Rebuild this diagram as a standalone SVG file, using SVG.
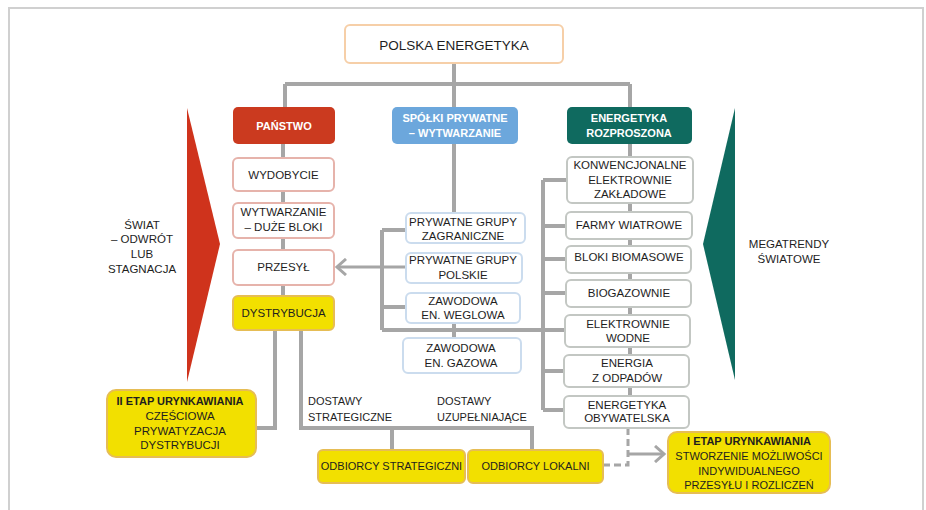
<svg xmlns="http://www.w3.org/2000/svg" width="926" height="510" viewBox="0 0 926 510">
<defs>
<style>
text{font-family:"Liberation Sans",Arial,sans-serif;fill:#1e1e1e;text-anchor:middle;font-size:11.5px}
.hd{font-weight:bold;fill:#fff;font-size:11px}
.bd{font-weight:bold;font-size:11px}
.sm{font-size:11px}
.lt{text-anchor:start;font-size:11px}
.w{fill:#fff;rx:5}
.red{stroke:#e6b3ab;stroke-width:2}
.blu{stroke:#cbdcee;stroke-width:2}
.gry{stroke:#c3c7c3;stroke-width:2}
.yel{fill:#f2e000;stroke:#e6bd55;stroke-width:2}
.c{fill:none;stroke:#a6a6a6;stroke-width:4}
.d{fill:none;stroke:#a6a6a6;stroke-width:3;stroke-dasharray:7 4}
</style>
<marker id="ah" markerUnits="userSpaceOnUse" markerWidth="14" markerHeight="18" refX="11" refY="9" orient="auto">
<path d="M2,1 L11,9 L2,17" fill="none" stroke="#a6a6a6" stroke-width="3"/>
</marker>
</defs>
<rect x="9" y="8" width="914" height="520" fill="#fff" stroke="#d0d0d0" stroke-width="2"/>
<polygon id="tri-left" points="187,108 220,244 187,382" fill="#cf331c"/>
<polygon id="tri-right" points="735,108 703,244 735,380" fill="#0f6a5f"/>
<g id="connectors">
<path class="c" d="M454,63 V84 M285,84 H630 M285,84 V107 M454,84 V107 M630,84 V107"/>
<path class="c" d="M283,144 V296"/>
<path class="c" d="M454,144 V213"/>
<path class="c" d="M630,144 V396"/>
<path class="c" d="M382,230 V330 M382,230 H406 M382,307 H406 M382,330 H565 M454,323 V338"/>
<path class="c" style="stroke-width:3" d="M406,267 H337" marker-end="url(#ah)"/>
<path class="c" d="M543,180 V410 M543,180 H567 M543,226 H567 M543,259 H567 M543,293 H567 M543,371 H565 M543,410 H565"/>
<path class="c" d="M275,330 V428 H256"/>
<path class="c" d="M301,330 V428 H532 V450 M392,428 V450"/>
<path class="d" d="M628,428 V465 H604"/>
<path class="c" style="stroke-width:3" d="M628,454 H664" marker-end="url(#ah)"/>
</g>
<g id="root"><rect x="345" y="25" width="218" height="38" rx="5" fill="#fff" stroke="#f6cfa8" stroke-width="2"/><text x="454" y="50" style="font-size:13.5px">POLSKA ENERGETYKA</text></g>
<g id="panstwo"><rect x="233" y="107" width="102" height="37" rx="5" fill="#cb3a1f"/><text class="hd" x="284" y="130">PAŃSTWO</text></g>
<g id="spolki"><rect x="392" y="107" width="126" height="37" rx="5" fill="#6ca7dc"/><text class="hd" x="455" y="122">SPÓŁKI PRYWATNE</text><text class="hd" x="455" y="137">– WYTWARZANIE</text></g>
<g id="rozproszona"><rect x="567" y="107" width="125" height="37" rx="5" fill="#0f6a5f"/><text class="hd" x="629" y="122">ENERGETYKA</text><text class="hd" x="629" y="137">ROZPROSZONA</text></g>
<g id="wydobycie"><rect class="w red" x="233" y="158" width="101" height="33"/><text x="283.5" y="179">WYDOBYCIE</text></g>
<g id="wytwarzanie"><rect class="w red" x="233" y="203" width="101" height="35"/><text x="283.5" y="216">WYTWARZANIE</text><text x="283.5" y="231">– DUŻE BLOKI</text></g>
<g id="przesyl"><rect class="w red" x="233" y="250" width="101" height="35"/><text x="283.5" y="271">PRZESYŁ</text></g>
<g id="dystrybucja"><rect class="yel" x="233" y="296" width="101" height="34" rx="5"/><text x="283.5" y="317">DYSTRYBUCJA</text></g>
<g id="zagraniczne"><rect class="w blu" x="406" y="213" width="119" height="30"/><text x="463" y="226">PRYWATNE GRUPY</text><text x="463" y="240">ZAGRANICZNE</text></g>
<g id="polskie"><rect class="w blu" x="406" y="253" width="116" height="30"/><text x="463" y="264">PRYWATNE GRUPY</text><text x="463" y="279">POLSKIE</text></g>
<g id="weglowa"><rect class="w blu" x="406" y="293" width="114" height="30"/><text x="463" y="305">ZAWODOWA</text><text x="463" y="319">EN. WEGLOWA</text></g>
<g id="gazowa"><rect class="w blu" x="403" y="338" width="118" height="35"/><text x="461" y="352">ZAWODOWA</text><text x="461" y="367">EN. GAZOWA</text></g>
<g id="konwencjonalne"><rect class="w gry" x="567" y="157" width="126" height="46"/><text x="630" y="169">KONWENCJONALNE</text><text x="630" y="184">ELEKTROWNIE</text><text x="630" y="198">ZAKŁADOWE</text></g>
<g id="farmy"><rect class="w gry" x="566" y="212" width="126" height="27"/><text x="629" y="229">FARMY WIATROWE</text></g>
<g id="biomasowe"><rect class="w gry" x="566" y="246" width="125" height="27"/><text x="629" y="261">BLOKI BIOMASOWE</text></g>
<g id="biogazownie"><rect class="w gry" x="566" y="280" width="125" height="27"/><text x="629" y="297">BIOGAZOWNIE</text></g>
<g id="wodne"><rect class="w gry" x="565" y="315" width="125" height="32"/><text x="628" y="328">ELEKTROWNIE</text><text x="628" y="342">WODNE</text></g>
<g id="odpady"><rect class="w gry" x="564" y="355" width="125" height="32"/><text x="627" y="367">ENERGIA</text><text x="627" y="382">Z ODPADÓW</text></g>
<g id="obywatelska"><rect class="w gry" x="564" y="396" width="125" height="32"/><text x="627" y="409">ENERGETYKA</text><text x="627" y="422">OBYWATELSKA</text></g>
<g id="etap2"><rect class="yel" x="107" y="390" width="149" height="67" rx="9"/><text class="bd" x="180" y="405">II ETAP URYNKAWIANIA</text><text x="180" y="420">CZĘŚCIOWA</text><text x="180" y="435">PRYWATYZACJA</text><text x="180" y="449">DYSTRYBUCJI</text></g>
<g id="strategiczni"><rect class="yel" x="318" y="450" width="147" height="33" rx="5"/><text class="sm" x="391.5" y="470">ODBIORCY STRATEGICZNI</text></g>
<g id="lokalni"><rect class="yel" x="468" y="450" width="135" height="33" rx="5"/><text class="sm" x="535.5" y="470">ODBIORCY LOKALNI</text></g>
<g id="etap1"><rect class="yel" x="668" y="432" width="162" height="61" rx="9"/><text class="bd" x="749" y="445">I ETAP URYNKAWIANIA</text><text class="sm" x="749" y="460">STWORZENIE MOŻLIWOŚCI</text><text class="sm" x="749" y="475">INDYWIDUALNEGO</text><text class="sm" x="749" y="489">PRZESYŁU I ROZLICZEŃ</text></g>
<g id="labels">
<text x="142" y="229">ŚWIAT</text><text x="142" y="243">– ODWRÓT</text><text x="142" y="258">LUB</text><text x="142" y="273">STAGNACJA</text>
<text x="789" y="248">MEGATRENDY</text><text x="789" y="263">ŚWIATOWE</text>
<text class="lt" x="308" y="405">DOSTAWY</text><text class="lt" x="308" y="421">STRATEGICZNE</text>
<text class="lt" x="437" y="405">DOSTAWY</text><text class="lt" x="437" y="421">UZUPEŁNIAJĄCE</text>
</g>
</svg>
